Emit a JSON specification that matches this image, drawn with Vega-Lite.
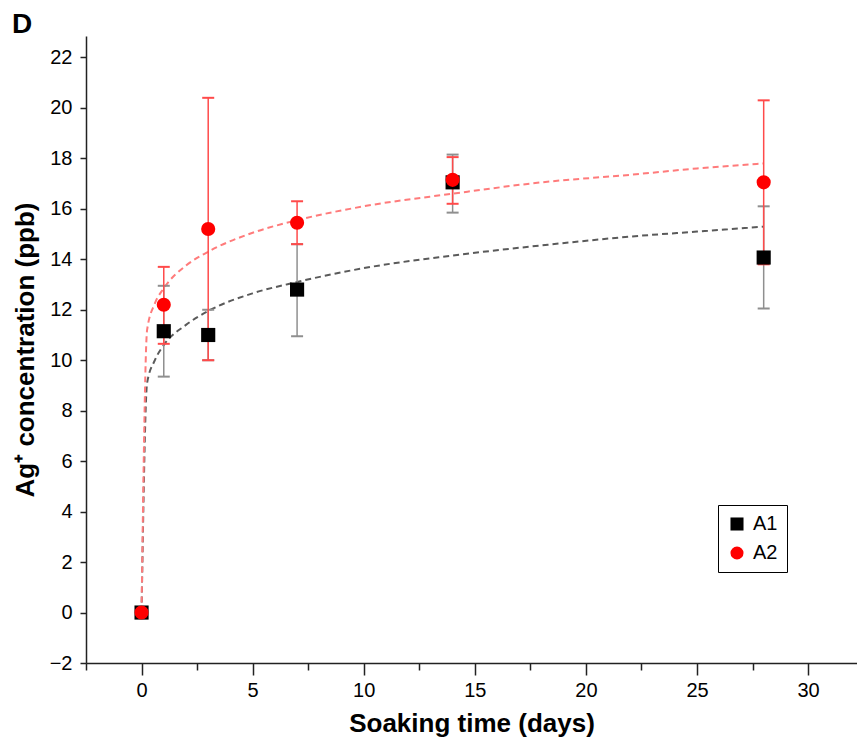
{
  "$schema": "https://vega.github.io/schema/vega-lite/v6.json",
  "width": 771,
  "height": 627,
  "autosize": {"type": "none"},
  "padding": {"left": 86, "top": 36, "right": 0, "bottom": 75},
  "background": "white",
  "title": {"text": "D", "anchor": "start", "frame": "group", "dx": -74, "dy": 5, "fontSize": 28, "fontWeight": "bold", "font": "Liberation Sans", "color": "black", "offset": 2},
  "config": {
    "view": {"stroke": null},
    "font": "Liberation Sans",
    "axis": {"domainColor": "#222", "domainWidth": 1.5, "tickColor": "#222", "tickWidth": 1.5, "labelFont": "Liberation Sans", "labelFontSize": 20, "labelColor": "black", "titleFont": "Liberation Sans", "titleFontSize": 26, "titleFontWeight": "bold", "titleColor": "black", "grid": false},
    "legend": {"labelFont": "Liberation Sans"}
  },
  "resolve": {"axis": {"x": "independent"}},
  "datasets": {
    "pts": [
      {"sample": "A1", "day": 0, "c": 0, "lo": 0, "hi": 0},
      {"sample": "A1", "day": 1, "c": 11.15, "lo": 9.35, "hi": 12.95},
      {"sample": "A1", "day": 3, "c": 11.0, "lo": 10.0, "hi": 12.0},
      {"sample": "A1", "day": 7, "c": 12.8, "lo": 10.95, "hi": 14.6},
      {"sample": "A1", "day": 14, "c": 17.05, "lo": 15.85, "hi": 18.15},
      {"sample": "A1", "day": 28, "c": 14.07, "lo": 12.05, "hi": 16.1},
      {"sample": "A2", "day": 0, "c": 0, "lo": 0, "hi": 0},
      {"sample": "A2", "day": 1, "c": 12.2, "lo": 10.65, "hi": 13.7},
      {"sample": "A2", "day": 3, "c": 15.2, "lo": 10.0, "hi": 20.4},
      {"sample": "A2", "day": 7, "c": 15.45, "lo": 14.6, "hi": 16.3},
      {"sample": "A2", "day": 14, "c": 17.15, "lo": 16.2, "hi": 18.05},
      {"sample": "A2", "day": 28, "c": 17.05, "lo": 13.8, "hi": 20.3}
    ],
    "fit": [
      {"sample": "A1", "day": 0, "fit": 0},
      {"sample": "A1", "day": 0.25, "fit": 9.1},
      {"sample": "A1", "day": 0.6, "fit": 10.0},
      {"sample": "A1", "day": 1, "fit": 10.6},
      {"sample": "A1", "day": 2, "fit": 11.4},
      {"sample": "A1", "day": 3, "fit": 11.95},
      {"sample": "A1", "day": 5, "fit": 12.65},
      {"sample": "A1", "day": 7, "fit": 13.1},
      {"sample": "A1", "day": 10, "fit": 13.65},
      {"sample": "A1", "day": 14, "fit": 14.15},
      {"sample": "A1", "day": 18, "fit": 14.55},
      {"sample": "A1", "day": 22, "fit": 14.9},
      {"sample": "A1", "day": 25, "fit": 15.1},
      {"sample": "A1", "day": 28, "fit": 15.3},
      {"sample": "A2", "day": 0, "fit": 0},
      {"sample": "A2", "day": 0.25, "fit": 11.2},
      {"sample": "A2", "day": 0.6, "fit": 12.25},
      {"sample": "A2", "day": 1, "fit": 12.85},
      {"sample": "A2", "day": 2, "fit": 13.75},
      {"sample": "A2", "day": 3, "fit": 14.3},
      {"sample": "A2", "day": 5, "fit": 15.05},
      {"sample": "A2", "day": 7, "fit": 15.55},
      {"sample": "A2", "day": 10, "fit": 16.1},
      {"sample": "A2", "day": 14, "fit": 16.6},
      {"sample": "A2", "day": 18, "fit": 17.05},
      {"sample": "A2", "day": 22, "fit": 17.35},
      {"sample": "A2", "day": 25, "fit": 17.6},
      {"sample": "A2", "day": 28, "fit": 17.8}
    ]
  },
  "layer": [
    {
      "data": {"name": "fit"},
      "transform": [{"filter": "datum.sample === 'A1'"}],
      "mark": {"type": "line", "color": "#5a5a5a", "strokeDash": [6, 4], "strokeWidth": 2, "interpolate": "monotone", "clip": true},
      "encoding": {
        "x": {"field": "day", "type": "quantitative", "scale": {"domain": [-2.5, 32.2], "nice": false, "zero": false},
          "axis": {"orient": "bottom", "title": null, "values": [-2.5, 2.5, 7.5, 12.5, 17.5, 22.5, 27.5], "labels": false, "domain": false, "tickSize": 7}},
        "y": {"field": "fit", "type": "quantitative"}
      }
    },
    {
      "data": {"name": "fit"},
      "transform": [{"filter": "datum.sample === 'A2'"}],
      "mark": {"type": "line", "color": "#ff7b7b", "strokeDash": [6, 4], "strokeWidth": 2, "interpolate": "monotone", "clip": true},
      "encoding": {
        "x": {"field": "day", "type": "quantitative", "axis": null},
        "y": {"field": "fit", "type": "quantitative"}
      }
    },
    {
      "data": {"name": "pts"},
      "transform": [{"filter": "datum.sample === 'A1'"}],
      "mark": {"type": "rule", "color": "#8f8f8f", "strokeWidth": 1.5},
      "encoding": {
        "x": {"field": "day", "type": "quantitative", "axis": null},
        "y": {"field": "lo", "type": "quantitative"},
        "y2": {"field": "hi"}
      }
    },
    {
      "data": {"name": "pts"},
      "transform": [{"filter": "datum.sample === 'A1'"}],
      "mark": {"type": "tick", "orient": "horizontal", "color": "#8f8f8f", "size": 12, "thickness": 2, "opacity": 1},
      "encoding": {
        "x": {"field": "day", "type": "quantitative", "axis": null},
        "y": {"field": "lo", "type": "quantitative"}
      }
    },
    {
      "data": {"name": "pts"},
      "transform": [{"filter": "datum.sample === 'A1'"}],
      "mark": {"type": "tick", "orient": "horizontal", "color": "#8f8f8f", "size": 12, "thickness": 2, "opacity": 1},
      "encoding": {
        "x": {"field": "day", "type": "quantitative", "axis": null},
        "y": {"field": "hi", "type": "quantitative"}
      }
    },
    {
      "data": {"name": "pts"},
      "transform": [{"filter": "datum.sample === 'A2'"}],
      "mark": {"type": "rule", "color": "#ff4a4a", "strokeWidth": 1.5},
      "encoding": {
        "x": {"field": "day", "type": "quantitative", "axis": null},
        "y": {"field": "lo", "type": "quantitative"},
        "y2": {"field": "hi"}
      }
    },
    {
      "data": {"name": "pts"},
      "transform": [{"filter": "datum.sample === 'A2'"}],
      "mark": {"type": "tick", "orient": "horizontal", "color": "#ff4a4a", "size": 12, "thickness": 2, "opacity": 1},
      "encoding": {
        "x": {"field": "day", "type": "quantitative", "axis": null},
        "y": {"field": "lo", "type": "quantitative"}
      }
    },
    {
      "data": {"name": "pts"},
      "transform": [{"filter": "datum.sample === 'A2'"}],
      "mark": {"type": "tick", "orient": "horizontal", "color": "#ff4a4a", "size": 12, "thickness": 2, "opacity": 1},
      "encoding": {
        "x": {"field": "day", "type": "quantitative", "axis": null},
        "y": {"field": "hi", "type": "quantitative"}
      }
    },
    {
      "data": {"name": "pts"},
      "mark": {"type": "point", "filled": true, "opacity": 1, "size": 200},
      "encoding": {
        "x": {"field": "day", "type": "quantitative",
          "axis": {"orient": "bottom", "title": "Soaking time (days)", "values": [0, 5, 10, 15, 20, 25, 30], "tickSize": 12, "labelFontSize": 20, "labelPadding": 5, "titlePadding": 10, "labelFlush": false, "labelOverlap": false}},
        "y": {
          "field": "c", "type": "quantitative",
          "scale": {"domain": [-2, 22.85], "nice": false, "zero": false},
          "axis": {
            "title": "Ag⁺ concentration (ppb)",
            "values": [-2, -1, 0, 1, 2, 3, 4, 5, 6, 7, 8, 9, 10, 11, 12, 13, 14, 15, 16, 17, 18, 19, 20, 21, 22],
            "labelExpr": "datum.value % 2 === 0 ? datum.label : ''",
            "labelFontSize": 20,
            "tickSize": 6,
            "labelPadding": 8,
            "titlePadding": 11,
            "labelFlush": false,
            "labelOverlap": false
          }
        },
        "color": {
          "field": "sample", "type": "nominal",
          "scale": {"domain": ["A1", "A2"], "range": ["#000000", "#ff0000"]},
          "legend": {"title": null, "orient": "none", "legendX": 632, "legendY": 469, "strokeColor": "black", "padding": 9, "labelFontSize": 20, "labelColor": "black", "symbolSize": 170, "rowPadding": 9, "labelOffset": 6, "fillColor": "white"}
        },
        "shape": {
          "field": "sample", "type": "nominal",
          "scale": {"domain": ["A1", "A2"], "range": ["square", "circle"]},
          "legend": {"title": null, "orient": "none", "legendX": 632, "legendY": 469, "strokeColor": "black", "padding": 9, "labelFontSize": 20, "labelColor": "black", "symbolSize": 170, "rowPadding": 9, "labelOffset": 6, "fillColor": "white"}
        }
      }
    }
  ]
}
